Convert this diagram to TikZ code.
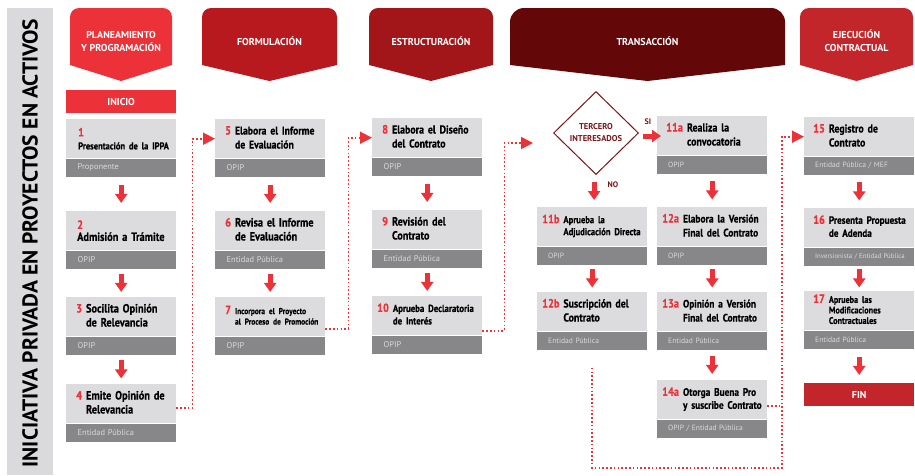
\documentclass[tikz,border=0pt]{standalone}
\usepackage{fontspec}
\setmainfont{PT Sans}
\newfontfamily\condfont{PT Sans}[FakeStretch=0.86, BoldFeatures={FakeBold=0.4}]
\usepackage{xcolor}
\usepackage{tikz}
\usetikzlibrary{arrows.meta,shapes.geometric,positioning,calc}

\definecolor{rojo}{HTML}{EC3238}
\definecolor{rojoB}{HTML}{B7191E}
\definecolor{rojoC}{HTML}{A2161A}
\definecolor{granate}{HTML}{640709}
\definecolor{rojoD}{HTML}{C3262A}
\definecolor{vino}{HTML}{7C1518}
\definecolor{grisclaro}{HTML}{DCDCDF}
\definecolor{grisoscuro}{HTML}{87878A}
\definecolor{grisletra}{HTML}{DADADA}
\definecolor{grisbarra}{HTML}{DADADD}

\tikzstyle{paso} = [rectangle, fill=grisclaro, anchor=north west, minimum width=110pt, minimum height=39pt, text width=90pt, inner xsep=10pt, inner ysep=0pt, align=left, font=\condfont\bfseries\fontsize{11.5}{14}\selectfont]
\tikzstyle{pasoA} = [paso, text width=100pt, inner xsep=5pt]
\tikzstyle{pasoB} = [paso, text width=92pt, inner xsep=9pt]
\tikzstyle{rol} = [rectangle, fill=grisoscuro, minimum width=110pt, minimum height=18pt, text width=87pt, inner xsep=11.5pt, inner ysep=0pt, align=left, text=grisletra, font=\fontsize{8.4}{9}\selectfont]
\tikzstyle{rolA} = [rol, text width=88pt, inner xsep=11pt, font=\fontsize{7.6}{8}\selectfont]
\tikzstyle{marca} = [rectangle, anchor=north west, minimum width=110pt, minimum height=23pt, inner sep=0pt, text=white, font=\bfseries\fontsize{10}{12}\selectfont]
\tikzstyle{fasetxt} = [align=center, text=white, font=\bfseries\fontsize{10}{13}\selectfont]
\tikzstyle{etiqueta} = [inner sep=0pt, text=vino, font=\bfseries\fontsize{8}{10}\selectfont]
\tikzset{flecha/.style = {
    draw=rojo, line width=5pt,
    -{Triangle[width=12pt,length=9pt]},
  },
  punteada/.style = {
    draw=rojo, line width=1.6pt, dash pattern=on 1.6pt off 2.2pt,
    -{Triangle[width=12pt,length=12pt]},
  }
}
\newcommand{\num}[1]{\textcolor{rojo}{\fontsize{12}{14}\selectfont #1}}
\newcommand{\tit}[3][]{\mbox{\num{#2}\kern4pt{#1\begin{tabular}[t]{@{}l@{}}#3\end{tabular}}}}
\newcommand{\fase}[6]{%
  \fill[#4] (#1,65) -- (#1,8+#5) arc[start angle=180, end angle=90, radius=#5pt]
    -- (#2-#5,8) arc[start angle=90, end angle=0, radius=#5pt]
    -- (#2,65) -- ({(#1+#2)/2},81) -- cycle;
  \node[fasetxt] (#6) at ({(#1+#2)/2},41) {#3};
}
\newcommand{\bajar}[2]{%
  \draw[flecha] ($(#1)!0.5!(#2)$) ++(0,-9) -- ++(0,18);
}

\begin{document}
\begin{tikzpicture}[x=1pt, y=-1pt]
  \fill[white] (0,0) rectangle (915,475);
  \useasboundingbox (0,0) rectangle (915,475);

  % side bar
  \fill[grisbarra] (7,8) rectangle (53,475);
  \node[rotate=90, font=\bfseries\fontsize{21.5}{24}\selectfont] (lado) at (30,243) {INICIATIVA PRIVADA EN PROYECTOS EN ACTIVOS};

  % phases
  \fase{70}{172}{PLANEAMIENTO\\Y PROGRAMACIÓN}{rojo}{9}{h1}
  \fase{202}{337}{FORMULACIÓN}{rojoB}{9}{h2}
  \fase{369}{493}{ESTRUCTURACIÓN}{rojoC}{9}{h3}
  \fase{510}{785}{TRANSACCIÓN}{granate}{14}{h4}
  \fase{800}{913}{EJECUCIÓN\\CONTRACTUAL}{rojoD}{9}{h5}

  % vertices
  \node[marca, fill=rojo] (inicio) at (66,90) {INICIO};

  \node[paso, inner xsep=12pt, text width=86pt] (p1) at (66,119) {\num{1}\\[-1pt]\mbox{\fontsize{9.9}{12}\selectfont Presentación de la IPPA}};
  \node[rol, below=0pt of p1] (r1) {Proponente};
  \node[paso, inner xsep=11pt, text width=88pt] (p2) at (66,211) {\num{2}\\[-2pt]\mbox{\fontsize{12}{14}\selectfont Admisión a Trámite}};
  \node[rol, below=0pt of p2] (r2) {OPIP};
  \node[paso] (p3) at (66,297) {\tit[\fontsize{12}{14}\selectfont]{3}{Socilita Opinión\\de Relevancia}};
  \node[rol, below=0pt of p3] (r3) {OPIP};
  \node[paso] (p4) at (66,384) {\tit[\fontsize{12}{14}\selectfont]{4}{Emite Opinión de\\Relevancia}};
  \node[rol, below=0pt of p4] (r4) {Entidad Pública};

  \node[paso] (p5) at (215,119) {\tit[\fontsize{11.3}{14}\selectfont]{5}{Elabora el Informe\\de Evaluación}};
  \node[rol, below=0pt of p5] (r5) {OPIP};
  \node[paso] (p6) at (215,211) {\tit[\fontsize{12}{14}\selectfont]{6}{Revisa el Informe\\de Evaluación}};
  \node[rol, below=0pt of p6] (r6) {Entidad Pública};
  \node[paso] (p7) at (215,297) {\tit[\fontsize{8.6}{10.5}\selectfont]{7}{Incorpora el Proyecto\\al Proceso de Promoción}};
  \node[rol, below=0pt of p7] (r7) {OPIP};

  \node[paso] (p8) at (372,118) {\tit{8}{Elabora el Diseño\\del Contrato}};
  \node[rol, below=0pt of p8] (r8) {OPIP};
  \node[paso] (p9) at (372,210) {\tit[\fontsize{11.8}{14}\selectfont]{9}{Revisión del\\Contrato}};
  \node[rol, below=0pt of p9] (r9) {Entidad Pública};
  \node[pasoA] (p10) at (372,296) {\tit[\fontsize{10.2}{12.5}\selectfont]{10}{Aprueba Declaratoria\\de Interés}};
  \node[rol, below=0pt of p10] (r10) {OPIP};

  \node[diamond, draw=vino, line width=1pt, fill=white, minimum width=85pt, minimum height=83pt, inner sep=0pt, align=center, text=vino, font=\bfseries\fontsize{8.5}{12}\selectfont] (d) at (596,133) {TERCERO\\INTERESADOS};
  \node[etiqueta] (si) at (648,122) {SI};
  \node[etiqueta] (no) at (613,185) {NO};

  \node[pasoB] (p11a) at (657,116) {\tit{11a}{Realiza la\\convocatoria}};
  \node[rolA, below=0pt of p11a] (r11a) {OPIP};
  \node[pasoA] (p11b) at (537,207) {\tit[\fontsize{10}{12}\selectfont]{11b}{Aprueba la\\Adjudicación Directa}};
  \node[rolA, below=0pt of p11b] (r11b) {OPIP};
  \node[pasoA] (p12a) at (657,207) {\tit[\fontsize{11}{14}\selectfont]{12a}{Elabora la Versión\\Final del Contrato}};
  \node[rolA, below=0pt of p12a] (r12a) {OPIP};
  \node[pasoA] (p12b) at (537,292) {\tit{12b}{Suscripción del\\Contrato}};
  \node[rolA, below=0pt of p12b] (r12b) {Entidad Pública};
  \node[pasoA] (p13a) at (657,292) {\tit[\fontsize{10.8}{14}\selectfont]{13a}{Opinión a Versión\\Final del Contrato}};
  \node[rolA, below=0pt of p13a] (r13a) {Entidad Pública};
  \node[pasoA] (p14a) at (657,380) {\tit[\fontsize{10.8}{13}\selectfont]{14a}{Otorga Buena Pro\\y suscribe Contrato}};
  \node[rolA, below=0pt of p14a] (r14a) {OPIP / Entidad Pública};

  \node[pasoB] (p15) at (804,117) {\tit{15}{Registro de\\Contrato}};
  \node[rolA, below=0pt of p15] (r15) {Entidad Pública / MEF};
  \node[pasoB] (p16) at (804,208) {\tit[\fontsize{10.6}{13}\selectfont]{16}{Presenta Propuesta\\de Adenda}};
  \node[rolA, below=0pt of p16, font=\fontsize{6.8}{8}\selectfont] (r16) {\mbox{Inversionista / Entidad Pública}};
  \node[pasoB] (p17) at (804,291) {\tit[\fontsize{9.5}{10.5}\selectfont]{17}{Aprueba las\\Modificaciones\\Contractuales}};
  \node[rolA, below=0pt of p17] (r17) {Entidad Pública};
  \node[marca, fill=rojoD] (fin) at (804,383) {FIN};

  \coordinate (cd) at ([xshift=-20pt, yshift=-10pt]d.west);
  \coordinate (b1) at ([yshift=-18pt]r12b.south);
  \coordinate (b2) at ([xshift=-22pt]p15.west);

  %edges
  \bajar{r1.south}{p2.north}
  \bajar{r2.south}{p3.north}
  \bajar{r3.south}{p4.north}
  \bajar{r5.south}{p6.north}
  \bajar{r6.south}{p7.north}
  \bajar{r8.south}{p9.north}
  \bajar{r9.south}{p10.north}
  \bajar{d.south}{p11b.north}
  \bajar{r11b.south}{p12b.north}
  \bajar{r11a.south}{p12a.north}
  \bajar{r12a.south}{p13a.north}
  \bajar{r13a.south}{p14a.north}
  \bajar{r15.south}{p16.north}
  \bajar{r16.south}{p17.north}
  \bajar{r17.south}{fin.north}
  \draw[flecha, shorten <=4pt, shorten >=-4pt] ([yshift=-3pt]d.east) -- ([yshift=-3pt]d.east -| p11a.west);

  %dotted lines
  \draw[punteada] ([yshift=-4pt]p4.east) -- ++(16,0) |- (p5.west);
  \draw[punteada] ([yshift=-12pt]p7.east) -- ++(23,0) |- (p8.west);
  \draw[punteada] ([yshift=-15pt]p10.east) -- ++(22,0) |- (cd);
  \draw[punteada] (b1) -- ++(0,100) -| (b2) -- (p15.west);
  \draw[punteada, -] ([yshift=-6pt]p14a.east) -- ([yshift=-6pt]p14a.east -| b2);
\end{tikzpicture}
\end{document}
